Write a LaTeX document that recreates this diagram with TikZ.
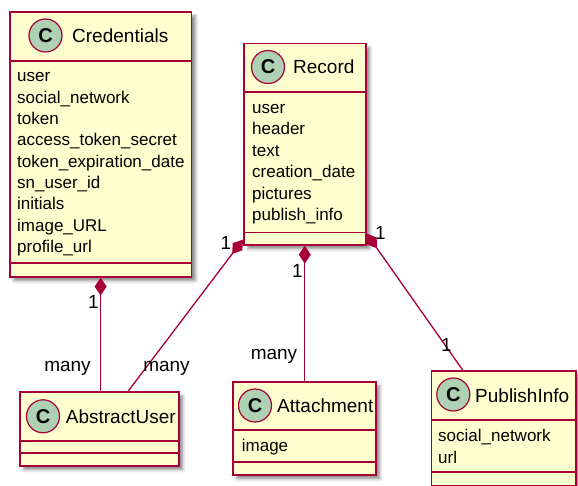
\documentclass[tikz,border=0pt]{standalone}
\usepackage{fontspec}
\setmainfont{Liberation Sans}
\usetikzlibrary{arrows.meta,shadows.blur}
\definecolor{umlfill}{HTML}{FEFECE}
\definecolor{umlborder}{HTML}{A80036}
\definecolor{umlcircle}{HTML}{ADD1B2}
\begin{document}
\begin{tikzpicture}[x=1pt,y=-1pt,
 classbox/.style={draw=umlborder, fill=umlfill, line width=1.6pt, anchor=north west, inner sep=0pt,
   blur shadow={shadow xshift=4pt, shadow yshift=-4pt, shadow blur radius=3pt, shadow opacity=45}},
 ccircle/.style={circle, draw=umlborder, fill=umlcircle, line width=1.2pt, minimum size=33pt, inner sep=0pt,
   font=\fontsize{20}{20}\selectfont\bfseries},
 cname/.style={anchor=base west, inner sep=0pt, font=\fontsize{19}{19}\selectfont},
 attr/.style={anchor=base west, inner sep=0pt, font=\fontsize{17}{17}\selectfont},
 divline/.style={draw=umlborder, line width=1.6pt},
 comp/.style={draw=umlborder, line width=1.3pt, {Diamond[length=18pt,width=12pt]}-},
 mult/.style={inner sep=0pt, font=\fontsize{19}{19}\selectfont}
]
\useasboundingbox (0,0) rectangle (578,486);

% ---------- Credentials ----------
\node[classbox, minimum width=181.7pt, minimum height=265pt] (cred) at (9,11) {};
\draw[divline] (9,61) -- (190.7,61);
\draw[divline] (9,263) -- (190.7,263);
\node[ccircle] (credC) at (45.5,35.5) {C};
\node[cname] (credN) at (72,43) {Credentials};
\node[attr] (c1) at (17,82) {user};
\node[attr] (c2) at (17,103.3) {social\_network};
\node[attr] (c3) at (17,124.6) {token};
\node[attr] (c4) at (17,145.9) {access\_token\_secret};
\node[attr] (c5) at (17,167.2) {token\_expiration\_date};
\node[attr] (c6) at (17,188.5) {sn\_user\_id};
\node[attr] (c7) at (17,209.8) {initials};
\node[attr] (c8) at (17,231.1) {image\_URL};
\node[attr] (c9) at (17,252.4) {profile\_url};

% ---------- Record ----------
\node[classbox, minimum width=122pt, minimum height=201.3pt] (rec) at (243,42.7) {};
\draw[divline] (243,92) -- (365,92);
\draw[divline] (243,232.7) -- (365,232.7);
\node[ccircle] (recC) at (268,67) {C};
\node[cname] (recN) at (293,74) {Record};
\node[attr] (r1) at (252,113.5) {user};
\node[attr] (r2) at (252,135) {header};
\node[attr] (r3) at (252,156.5) {text};
\node[attr] (r4) at (252,178) {creation\_date};
\node[attr] (r5) at (252,199.5) {pictures};
\node[attr] (r6) at (252,221) {publish\_info};

% ---------- AbstractUser ----------
\node[classbox, minimum width=159pt, minimum height=74pt] (absu) at (19,391) {};
\draw[divline] (19,440.7) -- (178,440.7);
\draw[divline] (19,453) -- (178,453);
\node[ccircle] (absuC) at (43,416.3) {C};
\node[cname] (absuN) at (65.7,423) {AbstractUser};

% ---------- Attachment ----------
\node[classbox, minimum width=143pt, minimum height=93pt] (att) at (232,381) {};
\draw[divline] (232,430) -- (375,430);
\draw[divline] (232,462) -- (375,462);
\node[ccircle] (attC) at (255,405.5) {C};
\node[cname] (attN) at (277,412.5) {Attachment};
\node[attr] (a1) at (241.7,451.5) {image};

% ---------- PublishInfo ----------
\node[classbox, minimum width=144.3pt, minimum height=115pt] (pub) at (430.7,370) {};
\draw[divline] (430.7,420) -- (575,420);
\draw[divline] (430.7,472) -- (575,472);
\node[ccircle] (pubC) at (453.3,394.5) {C};
\node[cname] (pubN) at (475,402) {PublishInfo};
\node[attr] (p1) at (438,441.5) {social\_network};
\node[attr] (p2) at (438,463) {url};

% ---------- connectors ----------
\draw[comp] (cred.south) -- (cred.south |- absu.north);
\draw[comp] ([yshift=6pt]rec.south west) -- ([xshift=29pt]absu.north);
\draw[comp] (rec.south) -- (rec.south |- att.north);
\draw[comp] ([yshift=12pt]rec.south east) -- ([xshift=-41pt]pub.north);

% ---------- multiplicities ----------
\node[mult] (m1) at (93.3,302) {1};
\node[mult] (m2) at (67.5,368.5) {many};
\node[mult] (m3) at (226,242.5) {1};
\node[mult] (m4) at (166.5,368.5) {many};
\node[mult] (m5) at (297.5,270.5) {1};
\node[mult] (m6) at (274,356.5) {many};
\node[mult] (m7) at (380.5,232.5) {1};
\node[mult] (m8) at (446.5,345) {1};
\end{tikzpicture}
\end{document}
